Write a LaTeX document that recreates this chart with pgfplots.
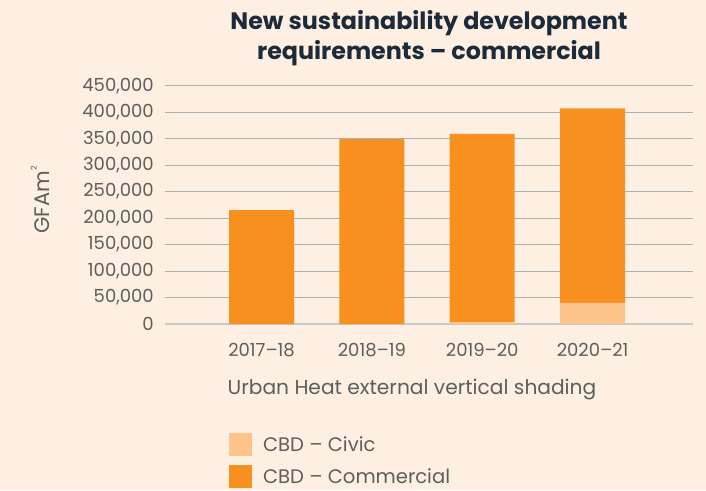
\documentclass[border=0pt]{standalone}
\usepackage{fontspec}
\setmainfont{Poppins}
\usepackage{pgfplots}
\pgfplotsset{compat=1.18}
\definecolor{bg}{HTML}{FDEFE2}
\definecolor{comm}{HTML}{F7901E}
\definecolor{civic}{HTML}{FDC48A}
\definecolor{txt}{HTML}{5E5E5E}
\definecolor{ttl}{HTML}{1C2A39}
\definecolor{grd}{HTML}{A8B0B8}
\definecolor{base}{HTML}{C9C9C9}

\begin{document}
\begin{tikzpicture}[x=1pt,y=1pt]
  \fill[bg] (0,0) rectangle (706,-490);
  \node[align=center, text=ttl, font=\bfseries\fontsize{23.8}{30}\selectfont] at (429,-38)
    {New sustainability development\\requirements – commercial};
  \node[text=txt, font=\fontsize{20.2}{20}\selectfont] at (412,-390)
    {Urban Heat external vertical shading};
  \node[text=txt, rotate=90, font=\fontsize{21}{21}\selectfont] at (40,-200)
    {GFAm\raisebox{1.1ex}{\fontsize{8}{8}\selectfont 2}};
  \begin{axis}[
      at={(165pt,-324pt)}, anchor=south west,
      scale only axis,
      width=528pt, height=238.3pt,
      xmin=-0.875, xmax=3.91,
      ymin=0, ymax=450000,
      ybar stacked,
      bar width=65pt,
      axis line style={draw=none},
      major tick length=0pt,
      ymajorgrids,
      grid style={grd, line width=1pt},
      xtick={0,1,2,3},
      xticklabels={2017–18,2018–19,2019–20,2020–21},
      ytick={0,50000,...,450000},
      scaled y ticks=false,
      /pgf/number format/assume math mode=true,
      /pgf/number format/1000 sep={,},
      /pgf/number format/fixed,
      tick label style={text=txt, font=\fontsize{18}{18}\selectfont},
      yticklabel style={anchor=east, inner sep=0pt, xshift=-11pt},
      xticklabel style={anchor=north, inner sep=0pt, yshift=-19pt},
      legend style={at={(axis description cs:0.121,-0.457)}, anchor=north west,
        draw=none, fill=none, inner sep=0pt, row sep=9pt,
        font=\fontsize{19.6}{19.6}\selectfont, text=txt,
        nodes={inner sep=0pt}},
      legend cell align=left,
      legend image code/.code={\path[#1, draw=none] (0pt,-11.5pt) rectangle (23pt,11.5pt);},
      legend columns=1,
    ]
    \addplot[fill=civic, draw=none] coordinates {(0,0) (1,0) (2,3000) (3,40000)};
    \addplot[fill=comm, draw=none] coordinates {(0,215000) (1,349000) (2,356000) (3,367000)};
    \legend{\hspace{11pt}CBD – Civic, \hspace{11pt}CBD – Commercial}
    \draw[base, line width=2pt] (axis cs:-0.875,0) -- (axis cs:3.91,0);
  \end{axis}
\end{tikzpicture}
\end{document}
